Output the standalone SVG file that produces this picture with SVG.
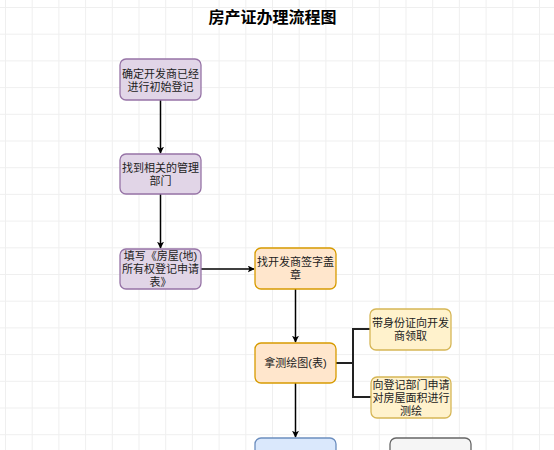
<svg xmlns="http://www.w3.org/2000/svg" width="554" height="450" viewBox="0 0 554 450">
<defs>
<pattern id="grid" x="5" y="7" width="26.7" height="26.7" patternUnits="userSpaceOnUse">
<path d="M0 0.5 H26.7 M0.5 0 V26.7" fill="none" stroke="#efefef" stroke-width="1"/>
</pattern>
<marker id="arr" viewBox="0 0 10 10" refX="9" refY="5" markerWidth="7" markerHeight="7" orient="auto" markerUnits="userSpaceOnUse">
<path d="M0 0 L10 5 L0 10 L2.5 5 Z" fill="#000"/>
</marker>
<style>
.t{font-family:"Liberation Sans","Noto Sans CJK SC",sans-serif;font-size:11px;fill:#222;text-anchor:middle;dominant-baseline:central}
.title{font-family:"Noto Sans CJK SC","Noto Sans",sans-serif;font-size:16px;font-weight:bold;fill:#000;text-anchor:middle}
.p{fill:#e1d5e7;stroke:#9673a6;stroke-width:1.3}
.o{fill:#ffe6cc;stroke:#d79b00;stroke-width:1.3}
.y{fill:#fff2cc;stroke:#d6b656;stroke-width:1.3}
.b{fill:#dae8fc;stroke:#6c8ebf;stroke-width:1.3}
.g{fill:#f5f5f5;stroke:#666666;stroke-width:1.3}
.c{fill:none;stroke:#000;stroke-width:1.5}
.br{fill:none;stroke:#222;stroke-width:2}
</style>
</defs>
<rect width="554" height="450" fill="#fff"/>
<rect width="554" height="450" fill="url(#grid)"/>
<text class="title" x="272.5" y="23">房产证办理流程图</text>
<g id="connectors">
<path class="c" d="M160.5 100 V153" marker-end="url(#arr)"/>
<path class="c" d="M160.5 194 V248" marker-end="url(#arr)"/>
<path class="c" d="M201 269 H254" marker-end="url(#arr)"/>
<path class="c" d="M295.5 289 V342" marker-end="url(#arr)"/>
<path class="c" d="M295.5 383 V437" marker-end="url(#arr)"/>
<path class="br" d="M336 363 H353"/>
<path class="br" d="M370 329 H353 V397 H371"/>
</g>
<g id="n1"><rect class="p" x="120" y="59" width="81" height="41" rx="6"/><text class="t" x="160.5" y="73.5">确定开发商已经<tspan x="160.5" dy="13">进行初始登记</tspan></text></g>
<g id="n2"><rect class="p" x="120" y="154" width="81" height="40" rx="6"/><text class="t" x="160.5" y="167.5">找到相关的管理<tspan x="160.5" dy="13">部门</tspan></text></g>
<g id="n3"><rect class="p" x="120" y="249" width="81" height="40" rx="6"/><text class="t" x="160.5" y="256">填写《房屋(地)<tspan x="160.5" dy="13">所有权登记申请</tspan><tspan x="160.5" dy="13">表》</tspan></text></g>
<g id="n4"><rect class="o" x="255" y="248" width="81" height="41" rx="6"/><text class="t" x="295.5" y="262">找开发商签字盖<tspan x="295.5" dy="13">章</tspan></text></g>
<g id="n5"><rect class="o" x="255" y="343" width="81" height="40" rx="6"/><text class="t" x="295.5" y="363">拿测绘图(表)</text></g>
<g id="n6"><rect class="y" x="370" y="309" width="81" height="41" rx="6"/><text class="t" x="410.5" y="323">带身份证向开发<tspan x="410.5" dy="13">商领取</tspan></text></g>
<g id="n7"><rect class="y" x="371" y="377" width="80" height="41" rx="6"/><text class="t" x="411" y="384.5">向登记部门申请<tspan x="411" dy="13">对房屋面积进行</tspan><tspan x="411" dy="13">测绘</tspan></text></g>
<g id="n8"><rect class="b" x="255" y="438" width="81" height="40" rx="6"/></g>
<g id="n9"><rect class="g" x="390" y="438" width="81" height="40" rx="6"/></g>
</svg>
